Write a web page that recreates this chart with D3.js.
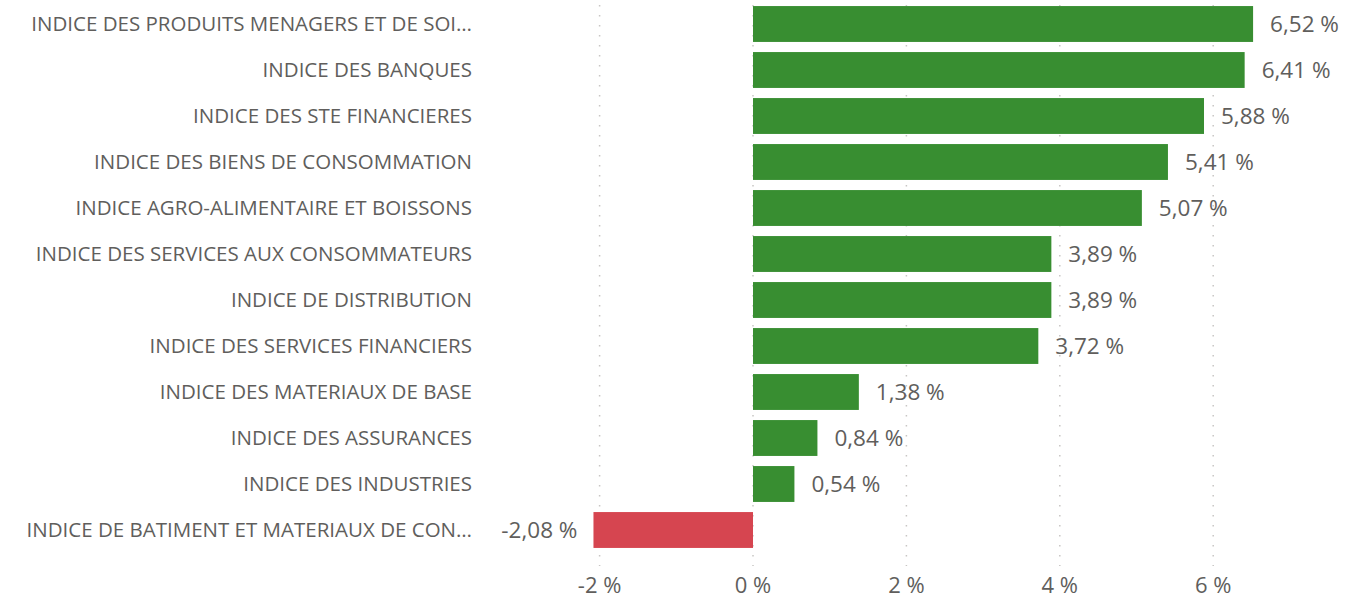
<!DOCTYPE html>
<html lang="fr">
<head>
<meta charset="UTF-8">
<script src="https://d3js.org/d3.v7.min.js"></script>
<style>
  body { margin: 0; background: #fff; }
  text { font-family: "Open Sans", "Noto Sans", sans-serif; fill: #605E5C; }
</style>
</head>
<body>
<svg id="chart" width="1364" height="600"></svg>
<script>
// Data
const labels = [
  "INDICE DES PRODUITS MENAGERS ET DE SOI…",
  "INDICE DES BANQUES",
  "INDICE DES STE FINANCIERES",
  "INDICE DES BIENS DE CONSOMMATION",
  "INDICE AGRO-ALIMENTAIRE ET BOISSONS",
  "INDICE DES SERVICES AUX CONSOMMATEURS",
  "INDICE DE DISTRIBUTION",
  "INDICE DES SERVICES FINANCIERS",
  "INDICE DES MATERIAUX DE BASE",
  "INDICE DES ASSURANCES",
  "INDICE DES INDUSTRIES",
  "INDICE DE BATIMENT ET MATERIAUX DE CON…"
];
const values = [6.52, 6.41, 5.88, 5.41, 5.07, 3.89, 3.89, 3.72, 1.38, 0.84, 0.54, -2.08];
const ticks = [-2, 0, 2, 4, 6];

const svg = d3.select("svg#chart");
const data = labels.map((d, i) => ({ label: d, value: values[i] }));
const fmt = v => v.toFixed(2).replace(".", ",") + " %";

// 0 % sits at x=753, about 76.7 px per percent
const x = d3.scaleLinear().domain([-2, 6]).range([599.6, 1213.2]);
const y = d3.scaleBand().domain(labels).range([1, 553]).paddingInner(0.22).paddingOuter(0.11);

// dotted gridlines
svg.append("g").selectAll("line").data(ticks)
  .join("line")
  .attr("x1", d => x(d)).attr("x2", d => x(d))
  .attr("y1", 5).attr("y2", 566)
  .attr("stroke", "#C8C6C4")
  .attr("stroke-width", 1.5)
  .attr("stroke-dasharray", "1.5,8.5");

// bars
svg.append("g").selectAll("rect").data(data)
  .join("rect")
  .attr("x", d => x(Math.min(0, d.value)))
  .attr("width", d => Math.abs(x(d.value) - x(0)))
  .attr("y", d => y(d.label))
  .attr("height", y.bandwidth())
  .attr("fill", d => d.value < 0 ? "#D64550" : "#388E31");

// value labels
svg.append("g").selectAll("text").data(data)
  .join("text")
  .attr("x", d => d.value < 0 ? x(d.value) - 16 : x(d.value) + 17)
  .attr("y", d => y(d.label) + y.bandwidth() / 2)
  .attr("dy", "0.35em")
  .attr("text-anchor", d => d.value < 0 ? "end" : "start")
  .style("font-size", "22.5px")
  .text(d => fmt(d.value));

// category labels
svg.append("g").selectAll("text").data(data)
  .join("text")
  .attr("x", 472)
  .attr("y", d => y(d.label) + y.bandwidth() / 2)
  .attr("dy", "0.35em")
  .attr("text-anchor", "end")
  .style("font-size", "20.5px")
  .text(d => d.label);

// bottom axis labels
svg.append("g").selectAll("text").data(ticks)
  .join("text")
  .attr("x", d => x(d))
  .attr("y", 585)
  .attr("dy", "0.35em")
  .attr("text-anchor", "middle")
  .style("font-size", "22px")
  .text(d => d + " %");
</script>
</body>
</html>
